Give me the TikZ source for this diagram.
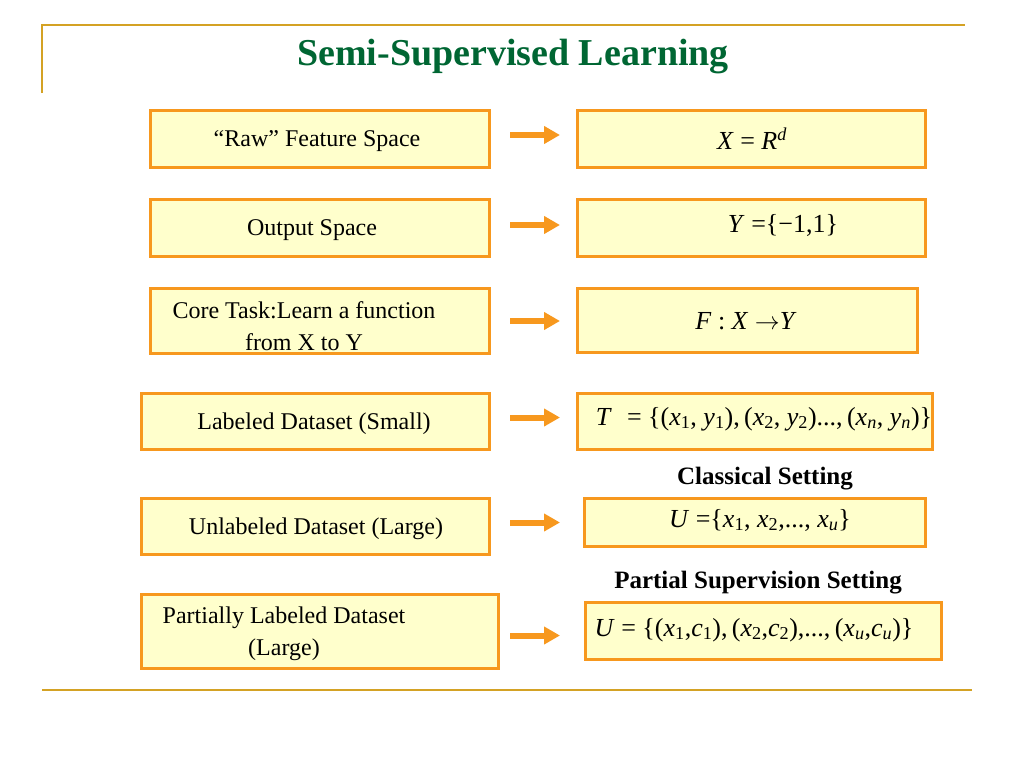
\documentclass[tikz,border=0pt]{standalone}
\usepackage{fontspec}
\setmainfont{Liberation Serif}
\usetikzlibrary{arrows.meta,calc}
\definecolor{boxfill}{RGB}{255,255,204}
\definecolor{boxline}{RGB}{247,152,30}
\definecolor{rulecol}{RGB}{212,162,36}
\definecolor{titlegreen}{RGB}{0,102,51}
\newcommand\mi[1]{\textit{#1}}
\newcommand\sbs[1]{\textsubscript{#1}}
\newcommand\sps[1]{\textsuperscript{#1}}
\begin{document}
\begin{tikzpicture}[x=1pt,y=-1pt,
  box/.style={draw=boxline, fill=boxfill, line width=3pt, anchor=north west, inner sep=0pt},
  txt/.style={font=\fontsize{24}{32}\selectfont, align=center, inner sep=0pt},
  mth/.style={font=\fontsize{26}{30}\selectfont, inner sep=0pt},
  hdr/.style={font=\fontsize{25}{28}\selectfont\bfseries, inner sep=0pt},
  arr/.style={draw=boxline, line width=6pt, -{Triangle[length=16pt,width=17pt]}},
  rl/.style={draw=rulecol, line width=2pt}
]
\useasboundingbox (0,0) rectangle (1024,768);
% decorative rules
\coordinate (tl) at (42,25);
\coordinate (tr) at (965,25);
\coordinate (lb) at (42,93);
\coordinate (bl) at (42,690);
\coordinate (br) at (972,690);
\draw[rl] (lb) -- (tl) -- (tr);
\draw[rl] (bl) -- (br);
% title
\node[font=\fontsize{38}{40}\selectfont\bfseries, text=titlegreen, inner sep=0pt] (title) at (513,57) {Semi-Supervised Learning};
% left boxes
\node[box, minimum width=339pt, minimum height=57pt] (L1) at (149,109) {};
\node[box, minimum width=339pt, minimum height=57pt] (L2) at (149,198) {};
\node[box, minimum width=339pt, minimum height=65pt] (L3) at (149,287) {};
\node[box, minimum width=348pt, minimum height=56pt] (L4) at (140,392) {};
\node[box, minimum width=348pt, minimum height=56pt] (L5) at (140,497) {};
\node[box, minimum width=357pt, minimum height=74pt] (L6) at (140,593) {};
% right boxes
\node[box, minimum width=348pt, minimum height=57pt] (R1) at (576,109) {};
\node[box, minimum width=348pt, minimum height=57pt] (R2) at (576,198) {};
\node[box, minimum width=340pt, minimum height=64pt] (R3) at (576,287) {};
\node[box, minimum width=355pt, minimum height=56pt] (R4) at (576,392) {};
\node[box, minimum width=341pt, minimum height=48pt] (R5) at (583,497) {};
\node[box, minimum width=356pt, minimum height=57pt] (R6) at (584,601) {};
% left texts
\node[txt] (t1) at (317,141) {“Raw” Feature Space};
\node[txt] (t2) at (312,230) {Output Space};
\node[txt] (t3) at (304,326) {Core Task:Learn a function\\from X to Y};
\node[txt] (t4) at (314,424) {Labeled Dataset (Small)};
\node[txt] (t5) at (316,529) {Unlabeled Dataset (Large)};
\node[txt] (t6) at (284,634) {Partially Labeled Dataset\\(Large)};
% right texts
\node[mth] (m1) at (752,139) {\mi{X} = \mi{R}\sps{\mi{d}}};
\node[mth] (m2) at (783,225) {\mi{Y} =\{−1,1\}};
\node[mth] (m3) at (746,321) {\mi{F} : \mi{X} $\rightarrow$\mi{Y}};
\node[mth] (m4) at (764,419) {\mi{T}\,\, = \{(\mi{x}\sbs{1}, \mi{y}\sbs{1}),\,(\mi{x}\sbs{2}, \mi{y}\sbs{2})...,\,(\mi{x}\sbs{\mi{n}}, \mi{y}\sbs{\mi{n}})\}};
\node[mth] (m5) at (760,520) {\mi{U} =\{\mi{x}\sbs{1}, \mi{x}\sbs{2},..., \mi{x}\sbs{\mi{u}}\}};
\node[mth] (m6) at (754,630) {\mi{U} = \{(\mi{x}\sbs{1},\mi{c}\sbs{1}),\,(\mi{x}\sbs{2},\mi{c}\sbs{2}),...,\,(\mi{x}\sbs{\mi{u}},\mi{c}\sbs{\mi{u}})\}};
% headers
\node[hdr] (h1) at (765,479) {Classical Setting};
\node[hdr] (h2) at (758,583) {Partial Supervision Setting};
% arrows
\coordinate (a1) at ($(L1.east)+(0,-4)$);
\coordinate (a2) at ($(L2.east)+(0,-3)$);
\coordinate (a3) at ($(L3.east)+(0,0)$);
\coordinate (a4) at ($(L4.east)+(0,-4)$);
\coordinate (a5) at ($(L5.east)+(0,-4)$);
\coordinate (a6) at ($(L6.east)+(0,4)$);
\draw[arr, shorten <=19pt, shorten >=16pt] (a1) -- (a1 -| R1.west);
\draw[arr, shorten <=19pt, shorten >=16pt] (a2) -- (a2 -| R2.west);
\draw[arr, shorten <=19pt, shorten >=16pt] (a3) -- (a3 -| R3.west);
\draw[arr, shorten <=19pt, shorten >=16pt] (a4) -- (a4 -| R4.west);
\draw[arr, shorten <=19pt, shorten >=23pt] (a5) -- (a5 -| R5.west);
\draw[arr, shorten <=10pt, shorten >=24pt] (a6) -- (a6 -| R6.west);
\end{tikzpicture}
\end{document}
